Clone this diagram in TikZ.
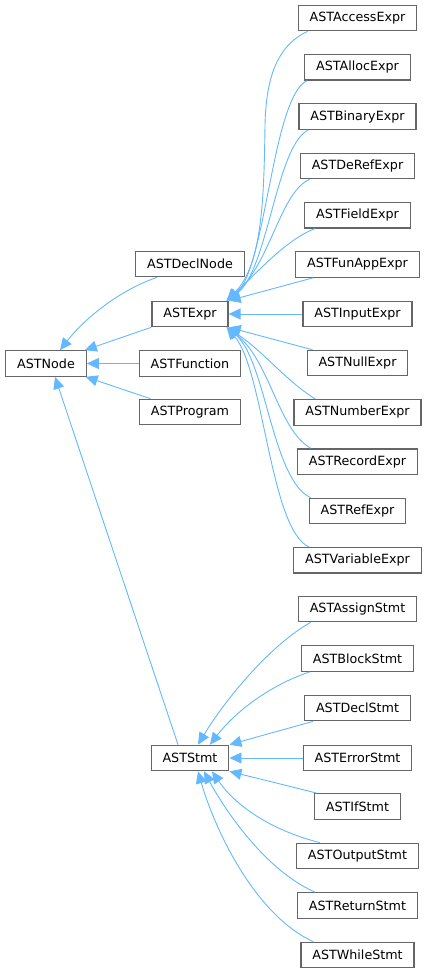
\documentclass[tikz,border=0pt]{standalone}
\usepackage{fontspec}
\setmainfont{DejaVu Sans}
\usetikzlibrary{arrows.meta}
\definecolor{edgeblue}{HTML}{63B8FF}
\definecolor{boxgray}{HTML}{666666}

\begin{document}
\begin{tikzpicture}[x=1pt,y=-1pt,
  cls/.style={rectangle,draw=boxgray,line width=1.2pt,fill=white,
              font=\fontsize{12.7}{15}\selectfont,inner xsep=11.4pt,inner ysep=0pt,minimum height=25.5pt},
  inh/.style={draw=edgeblue,line width=0.9pt,-{Triangle[length=12pt,width=11pt]}}]
\useasboundingbox (0,0) rectangle (428,973);

% base class and direct children
\node[cls] (ASTNode)     at (46,363.5)  {ASTNode};
\node[cls] (ASTDeclNode) at (190,264)   {ASTDeclNode};
\node[cls] (ASTExpr)     at (190,314)   {ASTExpr};
\node[cls] (ASTFunction) at (190,363.5) {ASTFunction};
\node[cls] (ASTProgram)  at (190,412)   {ASTProgram};
\node[cls] (ASTStmt)     at (190,758)   {ASTStmt};

% expressions
\node[cls] (ASTAccessExpr)   at (357.5,18)    {ASTAccessExpr};
\node[cls] (ASTAllocExpr)    at (357.5,67.3)  {ASTAllocExpr};
\node[cls] (ASTBinaryExpr)   at (357.5,116.6) {ASTBinaryExpr};
\node[cls] (ASTDeRefExpr)    at (357.5,165.9) {ASTDeRefExpr};
\node[cls] (ASTFieldExpr)    at (357.5,215.2) {ASTFieldExpr};
\node[cls] (ASTFunAppExpr)   at (357.5,264.5) {ASTFunAppExpr};
\node[cls] (ASTInputExpr)    at (357.5,314)   {ASTInputExpr};
\node[cls] (ASTNullExpr)     at (357.5,363.1) {ASTNullExpr};
\node[cls] (ASTNumberExpr)   at (357.5,412.4) {ASTNumberExpr};
\node[cls] (ASTRecordExpr)   at (357.5,461.7) {ASTRecordExpr};
\node[cls] (ASTRefExpr)      at (357.5,511)   {ASTRefExpr};
\node[cls] (ASTVariableExpr) at (357.5,560.3) {ASTVariableExpr};

% statements
\node[cls] (ASTAssignStmt) at (357.5,609)   {ASTAssignStmt};
\node[cls] (ASTBlockStmt)  at (357.5,658.5) {ASTBlockStmt};
\node[cls] (ASTDeclStmt)   at (357.5,708)   {ASTDeclStmt};
\node[cls] (ASTErrorStmt)  at (357.5,758)   {ASTErrorStmt};
\node[cls] (ASTIfStmt)     at (357.5,806.5) {ASTIfStmt};
\node[cls] (ASTOutputStmt) at (357.5,856)   {ASTOutputStmt};
\node[cls] (ASTReturnStmt) at (357.5,905.5) {ASTReturnStmt};
\node[cls] (ASTWhileStmt)  at (357.5,955)   {ASTWhileStmt};

% inheritance edges to ASTNode
\draw[inh] ([xshift=-33pt]ASTDeclNode.south) .. controls (120,290) and (85,318) .. ([xshift=14pt]ASTNode.north);
\draw[inh] (ASTExpr) -- (ASTNode);
\draw[inh] (ASTFunction) -- (ASTNode);
\draw[inh] (ASTProgram) -- (ASTNode);
\draw[inh] ([xshift=-12pt]ASTStmt.north) -- ([xshift=9pt]ASTNode.south);

% inheritance edges to ASTExpr
\draw[inh] ([xshift=10pt]ASTAccessExpr.south west) .. controls (276,46) and (266,80) .. (265,125)
  .. controls (264,200) and (262,265) .. ([xshift=-2pt]ASTExpr.north east);
\draw[inh] ([xshift=3pt]ASTAllocExpr.south west) .. controls (272,97) and (266,270) .. ([xshift=-2pt]ASTExpr.north east);
\draw[inh] ([xshift=10pt]ASTBinaryExpr.south west) .. controls (276,145) and (268,272) .. ([xshift=-2pt]ASTExpr.north east);
\draw[inh] ([xshift=10pt]ASTDeRefExpr.south west) .. controls (280,192) and (270,265) .. ([xshift=-2pt]ASTExpr.north east);
\draw[inh] ([xshift=11pt]ASTFieldExpr.south west) .. controls (285,240) and (255,275) .. ([xshift=-2pt]ASTExpr.north east);
\draw[inh] ([xshift=18pt]ASTFunAppExpr.south west) -- (ASTExpr.north east);
\draw[inh] (ASTInputExpr) -- (ASTExpr);
\draw[inh] ([xshift=6pt]ASTNullExpr.north west) -- (ASTExpr.south east);
\draw[inh] ([xshift=22pt]ASTNumberExpr.north west) .. controls (285,380) and (262,350) .. ([xshift=-2pt]ASTExpr.south east);
\draw[inh] ([xshift=14pt]ASTRecordExpr.north west) .. controls (278,430) and (270,360) .. ([xshift=-2pt]ASTExpr.south east);
\draw[inh] ([xshift=2pt]ASTRefExpr.north west) .. controls (272,480) and (266,360) .. ([xshift=-2pt]ASTExpr.south east);
\draw[inh] ([xshift=16pt]ASTVariableExpr.north west) .. controls (270,530) and (264,370) .. ([xshift=-2pt]ASTExpr.south east);

% inheritance edges to ASTStmt
\draw[inh] ([xshift=13pt]ASTAssignStmt.south west) .. controls (270,645) and (225,700) .. ([xshift=8pt]ASTStmt.north);
\draw[inh] ([xshift=9pt]ASTBlockStmt.south west) .. controls (270,685) and (235,712) .. ([xshift=20pt]ASTStmt.north);
\draw[inh] ([xshift=9pt]ASTDeclStmt.south west) -- (ASTStmt.north east);
\draw[inh] (ASTErrorStmt) -- (ASTStmt);
\draw[inh] ([xshift=3pt]ASTIfStmt.north west) -- (ASTStmt.south east);
\draw[inh] ([xshift=24pt]ASTOutputStmt.north west) .. controls (270,830) and (235,805) .. ([xshift=22pt]ASTStmt.south);
\draw[inh] ([xshift=18pt]ASTReturnStmt.north west) .. controls (265,870) and (225,810) .. ([xshift=14pt]ASTStmt.south);
\draw[inh] ([xshift=13pt]ASTWhileStmt.north west) .. controls (255,915) and (215,830) .. ([xshift=8pt]ASTStmt.south);
\end{tikzpicture}
\end{document}
